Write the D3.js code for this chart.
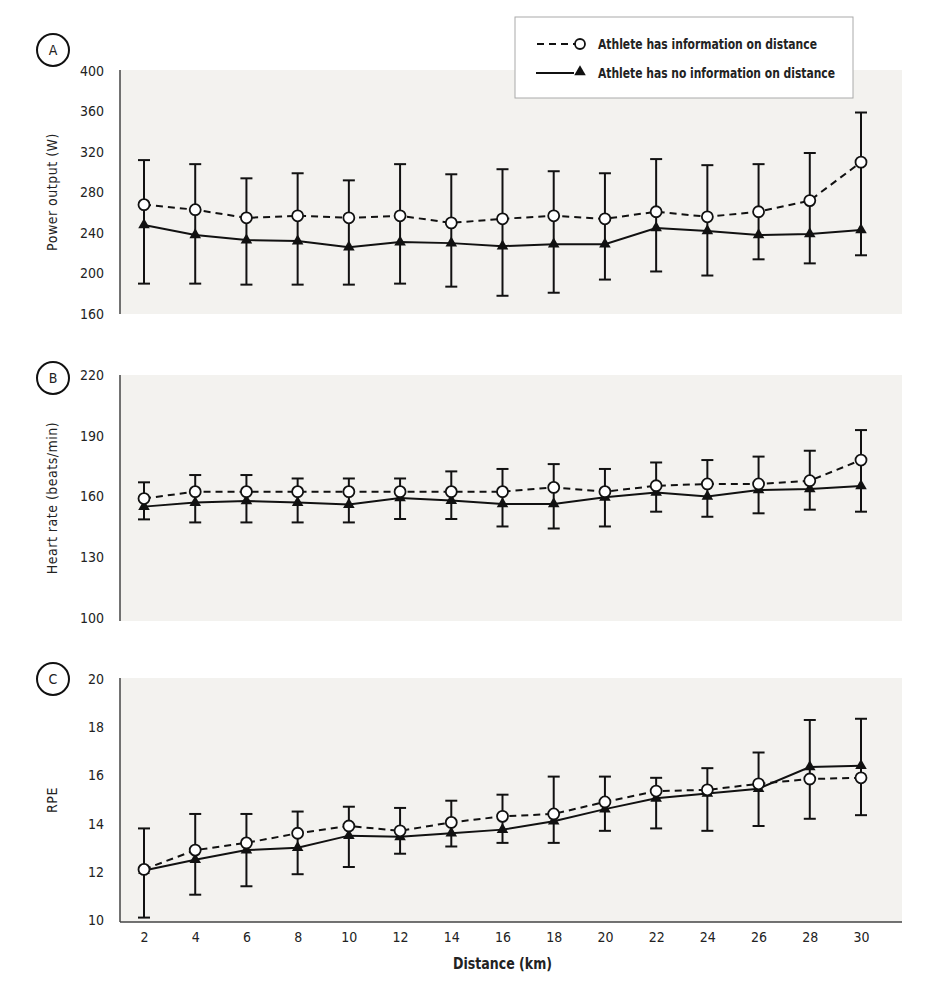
<!DOCTYPE html>
<html>
<head>
<meta charset="utf-8">
<script src="https://cdn.jsdelivr.net/npm/d3@7"></script>
<style>
  body { margin: 0; background: #fff; }
  svg text { font-family: "Liberation Sans Narrow", "DejaVu Sans Condensed", "Roboto", sans-serif; fill: #222; }
</style>
</head>
<body>
<div id="chart"></div>
<script>
// distance markers (km)
const distance = [2, 4, 6, 8, 10, 12, 14, 16, 18, 20, 22, 24, 26, 28, 30];

// A: power output (W)
const powerInfo = [268, 263, 255, 257, 255, 257, 250, 254, 257, 254, 261, 256, 261, 272, 310];
const powerInfoBar = [312, 308, 294, 299, 292, 308, 298, 303, 301, 299, 313, 307, 308, 319, 359];
const powerNoInfo = [248, 238, 233, 232, 226, 231, 230, 227, 229, 229, 245, 242, 238, 239, 243];
const powerNoInfoBar = [190, 190, 189, 189, 189, 190, 187, 178, 181, 194, 202, 198, 214, 210, 218];

// B: heart rate (beats/min)
const hrInfo = [159, 162.4, 162.4, 162.4, 162.4, 162.4, 162.4, 162.4, 164.5, 162.4, 165.3, 166.2, 166.2, 167.8, 178];
const hrInfoBar = [167, 170.6, 170.6, 168.9, 168.9, 168.9, 172.4, 173.6, 176, 173.6, 176.8, 178, 179.7, 182.6, 192.8];
const hrNoInfo = [155, 157, 157.8, 157, 156, 159.3, 158, 156.3, 156.3, 159.6, 162, 160, 163.2, 163.7, 165.2];
const hrNoInfoBar = [148.7, 147.2, 147.2, 147.2, 147.2, 148.9, 148.9, 145.2, 144.2, 145.2, 152.5, 150, 151.7, 153.5, 152.5];

// C: RPE
const rpeInfo = [12.1, 12.9, 13.2, 13.6, 13.9, 13.7, 14.05, 14.3, 14.4, 14.9, 15.35, 15.4, 15.65, 15.85, 15.9];
const rpeInfoBar = [13.8, 14.4, 14.4, 14.5, 14.7, 14.65, 14.95, 15.2, 15.95, 15.95, 15.9, 16.3, 16.95, 14.2, 14.35];
const rpeNoInfo = [12.05, 12.5, 12.9, 13.0, 13.5, 13.45, 13.6, 13.75, 14.1, 14.6, 15.05, 15.25, 15.45, 16.35, 16.4];
const rpeNoInfoBar = [10.1, 11.05, 11.4, 11.9, 12.2, 12.75, 13.05, 13.2, 13.2, 13.7, 13.8, 13.7, 13.9, 18.3, 18.35];

const powerTicks = [160, 200, 240, 280, 320, 360, 400];
const hrTicks = [100, 130, 160, 190, 220];
const rpeTicks = [10, 12, 14, 16, 18, 20];

const legendLabels = ["Athlete has information on distance", "Athlete has no information on distance"];

const svg = d3.select("#chart").append("svg")
    .attr("width", 936)
    .attr("height", 990);

const plotLeft = 120, plotRight = 902;

const xScale = d3.scaleLinear()
    .domain([2, 30])
    .range([144, 861]);

const panels = [
    { letter: "A", title: "Power output (W)", domain: [160, 400], ticks: powerTicks, range: [314, 71], bg: [70, 314],
      info: powerInfo, infoBar: powerInfoBar, noInfo: powerNoInfo, noInfoBar: powerNoInfoBar, badgeY: 50 },
    { letter: "B", title: "Heart rate (beats/min)", domain: [100, 220], ticks: hrTicks, range: [618, 375], bg: [375, 621],
      info: hrInfo, infoBar: hrInfoBar, noInfo: hrNoInfo, noInfoBar: hrNoInfoBar, badgeY: 378 },
    { letter: "C", title: "RPE", domain: [10, 20], ticks: rpeTicks, range: [920, 679], bg: [678, 922],
      info: rpeInfo, infoBar: rpeInfoBar, noInfo: rpeNoInfo, noInfoBar: rpeNoInfoBar, badgeY: 679, xAxis: true }
];

const triangle = d3.symbol().type(d3.symbolTriangle).size(58);

panels.forEach(p => {
    const y = d3.scaleLinear().domain(p.domain).range(p.range);
    const g = svg.append("g");

    // background
    g.append("rect")
        .attr("x", plotLeft)
        .attr("y", p.bg[0])
        .attr("width", plotRight - plotLeft)
        .attr("height", p.bg[1] - p.bg[0])
        .attr("fill", "#f3f2ef");

    // y axis
    const yAxis = d3.axisLeft(y).tickValues(p.ticks).tickSize(0).tickPadding(16);
    const ya = g.append("g")
        .attr("transform", `translate(${plotLeft},0)`)
        .call(yAxis);
    ya.select(".domain").remove();
    ya.selectAll("text").style("font-size", "14px").attr("fill", "#222");

    g.append("line")
        .attr("x1", plotLeft).attr("x2", plotLeft)
        .attr("y1", p.bg[0]).attr("y2", p.bg[1])
        .attr("stroke", "#444").attr("stroke-width", 1.5);

    if (p.xAxis) {
        const xAxis = d3.axisBottom(xScale).tickValues(distance).tickSize(0).tickPadding(10);
        const xa = g.append("g")
            .attr("transform", `translate(0,${p.bg[1]})`)
            .call(xAxis);
        xa.select(".domain").remove();
        xa.selectAll("text").style("font-size", "14px").attr("fill", "#222");
        g.append("line")
            .attr("x1", plotLeft).attr("x2", plotRight)
            .attr("y1", p.bg[1]).attr("y2", p.bg[1])
            .attr("stroke", "#444").attr("stroke-width", 1.5);
    }

    // panel badge
    g.append("circle")
        .attr("cx", 53).attr("cy", p.badgeY).attr("r", 16)
        .attr("fill", "none").attr("stroke", "#111").attr("stroke-width", 2);
    g.append("text")
        .attr("x", 53).attr("y", p.badgeY + 5)
        .attr("text-anchor", "middle")
        .style("font-size", "14px")
        .text(p.letter);

    // y title
    const midY = (p.bg[0] + p.bg[1]) / 2;
    g.append("text")
        .attr("transform", `translate(57,${midY}) rotate(-90)`)
        .attr("text-anchor", "middle")
        .style("font-size", "14px")
        .style("letter-spacing", "0.5px")
        .text(p.title);

    // error bars: one stem per distance spanning both series' bars
    const bars = distance.map((d, i) => ({ d, a: p.infoBar[i], b: p.noInfoBar[i] }));
    g.selectAll(".stem").data(bars).enter().append("line")
        .attr("x1", d => xScale(d.d)).attr("x2", d => xScale(d.d))
        .attr("y1", d => y(d.a)).attr("y2", d => y(d.b))
        .attr("stroke", "#111").attr("stroke-width", 2);
    const caps = bars.flatMap(d => [{ d: d.d, v: d.a }, { d: d.d, v: d.b }]);
    g.selectAll(".cap").data(caps).enter().append("line")
        .attr("x1", d => xScale(d.d) - 6).attr("x2", d => xScale(d.d) + 6)
        .attr("y1", d => y(d.v)).attr("y2", d => y(d.v))
        .attr("stroke", "#111").attr("stroke-width", 2);

    const line = d3.line().x((d, i) => xScale(distance[i])).y(d => y(d));

    g.append("path")
        .datum(p.noInfo)
        .attr("d", line)
        .attr("fill", "none").attr("stroke", "#111").attr("stroke-width", 2);
    g.append("path")
        .datum(p.info)
        .attr("d", line)
        .attr("fill", "none").attr("stroke", "#111").attr("stroke-width", 2)
        .attr("stroke-dasharray", "7,5");

    g.selectAll(".tri").data(p.noInfo).enter().append("path")
        .attr("d", triangle)
        .attr("transform", (d, i) => `translate(${xScale(distance[i])},${y(d)})`)
        .attr("fill", "#111");
    g.selectAll(".dot").data(p.info).enter().append("circle")
        .attr("cx", (d, i) => xScale(distance[i]))
        .attr("cy", d => y(d))
        .attr("r", 5.5)
        .attr("fill", "#fff").attr("stroke", "#111").attr("stroke-width", 1.8);
});

// x axis title
svg.append("text")
    .attr("x", 453).attr("y", 969)
    .attr("textLength", 99)
    .attr("lengthAdjust", "spacingAndGlyphs")
    .style("font-size", "15px")
    .style("font-weight", "bold")
    .text("Distance (km)");

// legend
const legend = svg.append("g");
legend.append("rect")
    .attr("x", 515).attr("y", 17).attr("width", 338).attr("height", 81)
    .attr("fill", "#fff").attr("stroke", "#aaa").attr("stroke-width", 1);
legend.append("line")
    .attr("x1", 537).attr("x2", 575).attr("y1", 44).attr("y2", 44)
    .attr("stroke", "#111").attr("stroke-width", 2).attr("stroke-dasharray", "7,5");
legend.append("circle")
    .attr("cx", 580).attr("cy", 44).attr("r", 5)
    .attr("fill", "#fff").attr("stroke", "#111").attr("stroke-width", 1.8);
legend.append("line")
    .attr("x1", 536).attr("x2", 574).attr("y1", 73).attr("y2", 73)
    .attr("stroke", "#111").attr("stroke-width", 2);
legend.append("path")
    .attr("d", triangle)
    .attr("transform", "translate(580,72)")
    .attr("fill", "#111");
legend.selectAll(".lab").data(legendLabels).enter().append("text")
    .attr("x", 598)
    .attr("y", (d, i) => 49 + i * 29)
    .attr("textLength", (d, i) => i === 0 ? 219 : 237)
    .attr("lengthAdjust", "spacingAndGlyphs")
    .style("font-size", "14px")
    .style("font-weight", "bold")
    .text(d => d);
</script>
</body>
</html>
